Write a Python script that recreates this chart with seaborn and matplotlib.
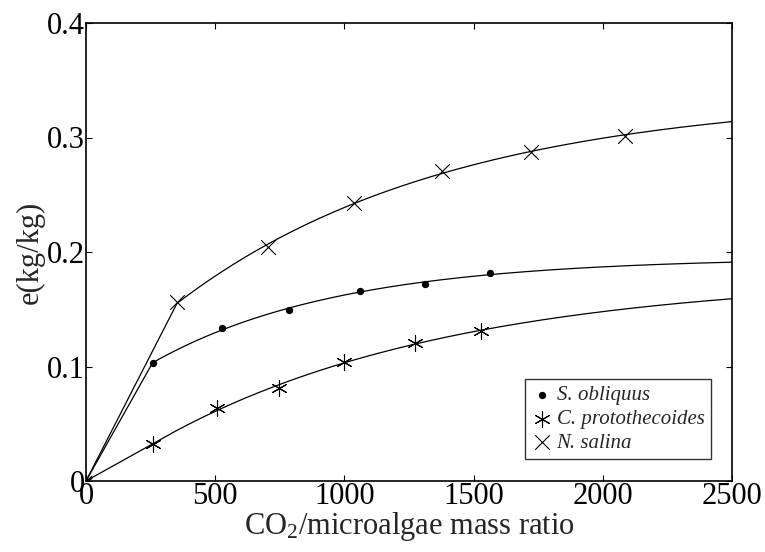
import numpy as np
import pandas as pd
import matplotlib
matplotlib.use("Agg")
import matplotlib.pyplot as plt
import seaborn as sns

sns.set_theme(style="ticks")
plt.rcParams["font.family"] = ["Liberation Serif", "DejaVu Serif"]
plt.rcParams["mathtext.fontset"] = "custom"
plt.rcParams["mathtext.rm"] = "Liberation Serif"
plt.rcParams["mathtext.it"] = "Liberation Serif:italic"

# ---- data ----
so_x = [258, 525, 786, 1059, 1312, 1563]
so_y = [0.1028, 0.1336, 0.1493, 0.1662, 0.1721, 0.1814]

cp_x = [258, 506, 747, 997, 1274, 1528]
cp_y = [0.032, 0.0635, 0.0815, 0.1036, 0.1208, 0.131]

ns_x = [352, 706, 1037, 1376, 1723, 2084]
ns_y = [0.1562, 0.2041, 0.2431, 0.271, 0.2876, 0.3013]

series_names = ["S. obliquus", "C. protothecoides", "N. salina"]
x_ticks = [0, 500, 1000, 1500, 2000, 2500]
y_ticks = [0, 0.1, 0.2, 0.3, 0.4]
y_tick_labels = ["0", "0.1", "0.2", "0.3", "0.4"]


def fit_curve(xs, ys, x_end=2500):
    """Least-squares fit y = a + b*exp(-k x) through the measured points,
    drawn from the origin straight to the first point, then along the fit."""
    xs = np.asarray(xs, float)
    ys = np.asarray(ys, float)
    best = None
    for k in np.linspace(1e-4, 5e-3, 400):
        A = np.column_stack([np.ones_like(xs), np.exp(-k * xs)])
        coef, *_ = np.linalg.lstsq(A, ys, rcond=None)
        err = np.sum((A @ coef - ys) ** 2)
        if best is None or err < best[0]:
            best = (err, k, coef)
    _, k, (a, b) = best
    gx = np.linspace(xs[0], x_end, 200)
    gy = a + b * np.exp(-k * gx)
    return np.concatenate([[0.0], gx]), np.concatenate([[0.0], gy])


fig = plt.figure(figsize=(7.65, 5.52), dpi=100)
ax = fig.add_axes([86 / 765, 1 - 481 / 552, (732 - 86) / 765, (481 - 23) / 552])

data_sets = [(so_x, so_y), (cp_x, cp_y), (ns_x, ns_y)]
markers = ["o", (6, 2, 0), "x"]
msizes = [20, 130, 110]

for i, (xs, ys) in enumerate(data_sets):
    cx, cy = fit_curve(xs, ys)
    cdf = pd.DataFrame({"x": cx, "y": cy})
    sns.lineplot(data=cdf, x="x", y="y", ax=ax, color="black", linewidth=0.9,
                 legend=False, sort=False, estimator=None)

for i, (xs, ys) in enumerate(data_sets):
    pdf = pd.DataFrame({"x": xs, "y": ys})
    sns.scatterplot(data=pdf, x="x", y="y", ax=ax, marker=markers[i], s=msizes[i],
                    color="black", edgecolor="black", linewidth=0.8,
                    label=series_names[i], zorder=3)

# origin markers (all series start at 0)
for i in range(3):
    sns.scatterplot(x=[0], y=[0], ax=ax, marker=markers[i], s=msizes[i] * 0.6,
                    color="black", edgecolor="black", linewidth=0.8,
                    legend=False, zorder=3)

ax.set_xlim(0, 2500)
ax.set_ylim(0, 0.4)
ax.set_xticks(x_ticks)
ax.set_xticklabels([str(t) for t in x_ticks])
ax.set_yticks(y_ticks)
ax.set_yticklabels(y_tick_labels)
ax.tick_params(direction="in", length=4, width=0.8, top=True, right=True,
               labelsize=22, pad=1, colors="black")
for sp in ax.spines.values():
    sp.set_linewidth(1.2)
    sp.set_color("black")

ax.set_xlabel("CO$_2$/microalgae mass ratio", fontsize=22, labelpad=-1)
ax.set_ylabel("e(kg/kg)", fontsize=22, labelpad=1)

leg = ax.legend(loc="lower right", bbox_to_anchor=(0.967, 0.048),
                prop={"family": "Liberation Serif", "style": "italic", "size": 15},
                frameon=True, fancybox=False, edgecolor="black",
                handletextpad=0.2, borderpad=0.3, labelspacing=0.2,
                handlelength=1.0, borderaxespad=0)
leg.get_frame().set_linewidth(1.0)

fig.savefig("out.png", dpi=100)
